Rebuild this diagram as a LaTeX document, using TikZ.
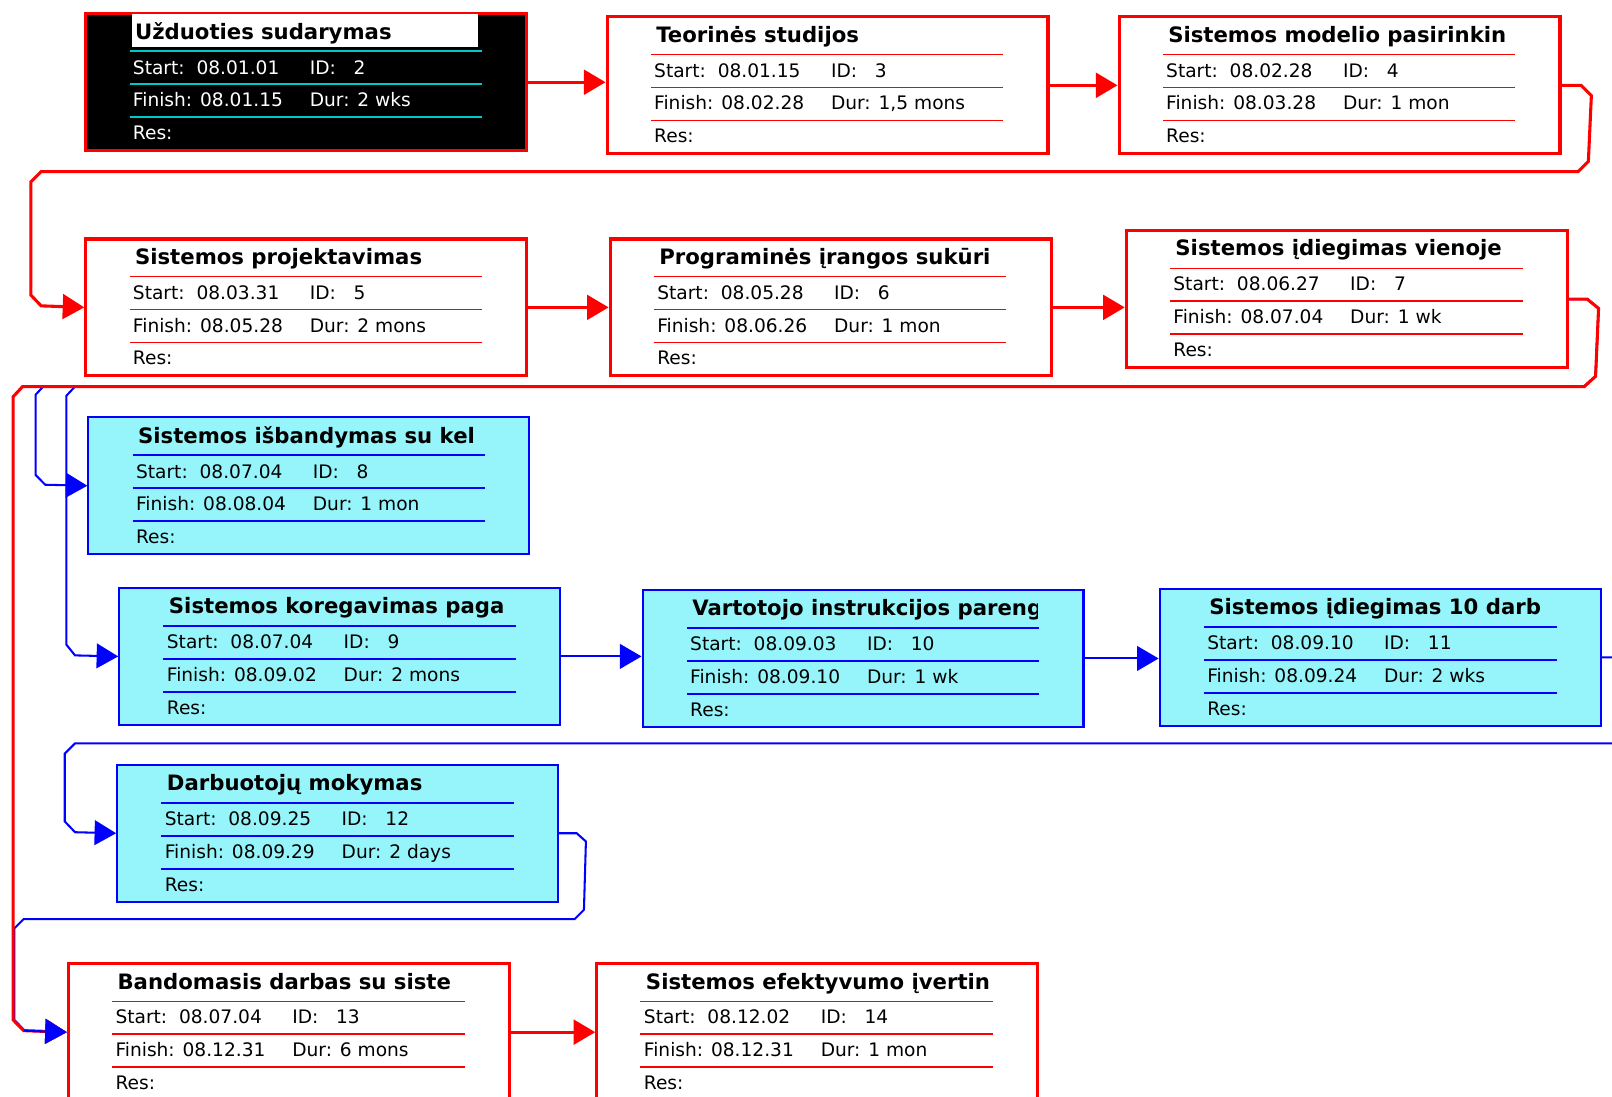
\documentclass[tikz,border=0pt]{standalone}
\usepackage{fontspec}
\setmainfont{DejaVu Sans}
\usetikzlibrary{calc,arrows.meta}

\definecolor{boxcyan}{RGB}{150,245,250}
\definecolor{sepcyan}{RGB}{0,200,200}

% one task box of the network diagram
\newcommand{\tasknode}[8]{%
  \node[#3 box] (#1) at #2 {};
  \begin{scope}
    \clip ($(#1.north west)+(44,1)$) rectangle ($(#1.north west)+(385,37)$);
    \node[title,#3 title] at ($(#1.north west)+(46,26)$) {#4};
  \end{scope}
  \draw[#3 sep] ($(#1.north west)+(44,38)$) -- ++(343,0)
    ($(#1.north west)+(44,70)$) -- ++(343,0)
    ($(#1.north west)+(44,102)$) -- ++(343,0);
  \node[txt,#3 txt] at ($(#1.north west)+(47,60)$) {Start:\ \ #5};
  \node[txt,#3 txt] at ($(#1.north west)+(219,60)$) {ID:\ \ \ #6};
  \node[txt,#3 txt] at ($(#1.north west)+(47,92)$) {Finish: #7};
  \node[txt,#3 txt] at ($(#1.north west)+(219,92)$) {Dur: #8};
  \node[txt,#3 txt] at ($(#1.north west)+(47,124)$) {Res:};
}

\begin{document}
\begin{tikzpicture}[x=0.02cm,y=-0.02cm,
    anybox/.style={anchor=north west,minimum width=8.58cm,minimum height=2.66cm,inner sep=0},
    crit box/.style={anybox,draw=red,fill=white,line width=0.06cm},
    done box/.style={anybox,draw=red,fill=black,line width=0.06cm},
    norm box/.style={anybox,draw=blue,fill=boxcyan,line width=0.04cm},
    crit sep/.style={red,line width=0.03cm},
    done sep/.style={sepcyan,line width=0.04cm},
    norm sep/.style={blue,line width=0.04cm},
    txt/.style={anchor=base west,inner sep=0,font=\fontsize{10.3}{12}\selectfont},
    crit txt/.style={}, norm txt/.style={}, done txt/.style={text=white},
    title/.style={anchor=base west,inner xsep=0.06cm,inner ysep=0,
      font=\bfseries\fontsize{11.75}{14}\selectfont},
    crit title/.style={}, norm title/.style={},
    done title/.style={fill=white,text width=6.62cm,text depth=0.16cm,text height=0.48cm},
    crit link/.style={draw=red,line width=0.06cm,-{Triangle[length=0.42cm,width=0.48cm]}},
    norm link/.style={draw=blue,line width=0.04cm,-{Triangle[length=0.42cm,width=0.48cm]}}]
  \useasboundingbox (0,0) rectangle (1568,1067);
  \clip (0,0) rectangle (1568,1067);
  \fill[white] (0,0) rectangle (1568,1067);

  \tasknode{T2}{(82,12)}{done}{Užduoties sudarymas}{08.01.01}{2}{08.01.15}{2 wks}
  \tasknode{T3}{(589,15)}{crit}{Teorinės studijos}{08.01.15}{3}{08.02.28}{1,5 mons}
  \tasknode{T4}{(1087,15)}{crit}{Sistemos modelio pasirinkin}{08.02.28}{4}{08.03.28}{1 mon}
  \tasknode{T5}{(82,231)}{crit}{Sistemos projektavimas}{08.03.31}{5}{08.05.28}{2 mons}
  \tasknode{T6}{(592,231)}{crit}{Programinės įrangos sukūri}{08.05.28}{6}{08.06.26}{1 mon}
  \tasknode{T7}{(1094,223)}{crit}{Sistemos įdiegimas vienoje}{08.06.27}{7}{08.07.04}{1 wk}
  \tasknode{T8}{(85,405)}{norm}{Sistemos išbandymas su kel}{08.07.04}{8}{08.08.04}{1 mon}
  \tasknode{T9}{(115,571)}{norm}{Sistemos koregavimas paga}{08.07.04}{9}{08.09.02}{2 mons}
  \tasknode{T10}{(624,573)}{norm}{Vartotojo instrukcijos pareng}{08.09.03}{10}{08.09.10}{1 wk}
  \tasknode{T11}{(1127,572)}{norm}{Sistemos įdiegimas 10 darb}{08.09.10}{11}{08.09.24}{2 wks}
  \tasknode{T12}{(113,743)}{norm}{Darbuotojų mokymas}{08.09.25}{12}{08.09.29}{2 days}
  \tasknode{T13}{(65,936)}{crit}{Bandomasis darbas su siste}{08.07.04}{13}{08.12.31}{6 mons}
  \tasknode{T14}{(579,936)}{crit}{Sistemos efektyvumo įvertin}{08.12.02}{14}{08.12.31}{1 mon}

  % non critical links
  \path[norm link] (T7.east) -- ++(18,0) -- ++(11,9) -- (1552,366) -- (1541,376)
    -- (42,376) -- (34.6,384) -- (34.6,462) -- (44,471.5) -- (T8.west);
  \path[norm link] (T7.east) -- ++(18,0) -- ++(11,9) -- (1552,366) -- (1541,376)
    -- (73,376) -- (64.5,385) -- (64.5,627) -- (73,637.5) -- (T9.west);
  \path[norm link] (T9.east) -- (T9.east -| T10.west);
  \path[norm link] (T10.east) -- (T10.east -| T11.west);
  \path[norm link] (T11.east) -- ++(40,0) -- (1600,723) -- (73,723) -- (63,733)
    -- (63,799) -- (73,809.5) -- (T12.west);
  \path[norm link] (T12.east) -- ++(17,0) -- ++(9,8) -- (568,885) -- (559,894)
    -- (23,894) -- (14,903) -- (14,992) -- (24,1002.5) -- (T13.west);

  % critical path
  \path[crit link] (T2.east) -- (T2.east -| T3.west);
  \path[crit link] (T3.east) -- (T3.east -| T4.west);
  \path[crit link] (T4.east) -- ++(19,0) -- ++(10,10) -- (1545,157) -- (1535,167)
    -- (40,167) -- (30,177) -- (30,287) -- (40,297.5) -- (T5.west);
  \path[crit link] (T5.east) -- (T5.east -| T6.west);
  \path[crit link] (T6.east) -- (T6.east -| T7.west);
  \path[crit link] (T7.east) -- ++(18,0) -- ++(11,9) -- (1552,366) -- (1541,376)
    -- (22,376) -- (12.7,386) -- (12.7,992) -- (23,1002.5) -- (T13.west);
  \path[crit link] (T13.east) -- (T13.east -| T14.west);
  \path[norm link] (23,1002.5) -- (T13.west);
\end{tikzpicture}
\end{document}
